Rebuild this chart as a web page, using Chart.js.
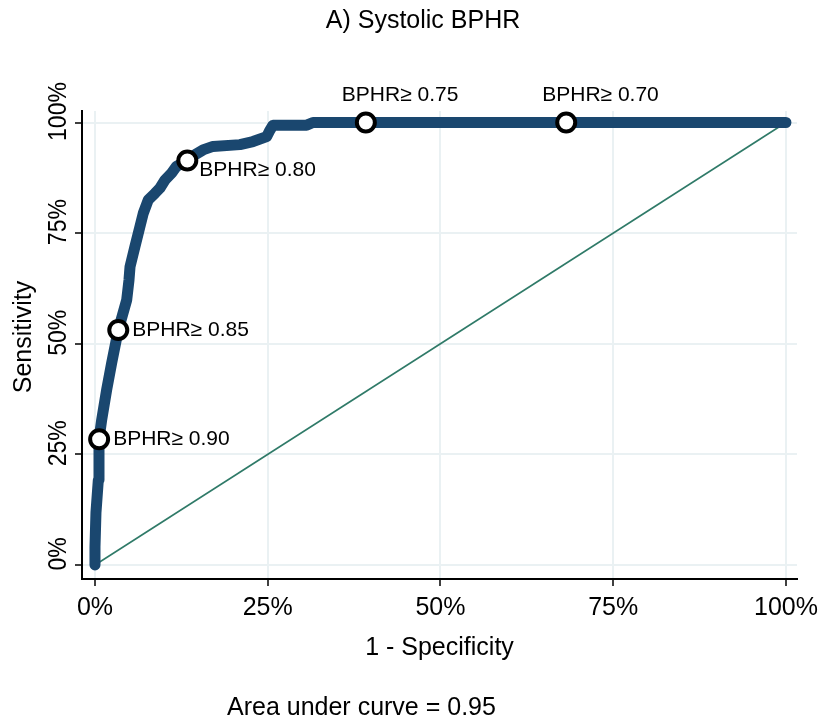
<!DOCTYPE html>
<html lang="en">
<head>
<meta charset="UTF-8">
<title>A) Systolic BPHR - ROC</title>
<script src="https://cdn.jsdelivr.net/npm/chart.js"></script>
<style>
    body {
        margin: 0;
        background: #fff;
    }
</style>
</head>
<body>

<canvas id="rocChart" width="828" height="724"></canvas>

<script>
    // ROC curve
    const rocFpr  = [0, 0, 0.0014, 0.0048, 0.0058, 0.0097, 0.0169, 0.0242, 0.0337, 0.0459, 0.0492, 0.0507,
                     0.0579, 0.0651, 0.0699, 0.0771, 0.0868, 0.0941, 0.1013, 0.111, 0.118, 0.1336, 0.1447,
                     0.1563, 0.1708, 0.2098, 0.2287, 0.2485, 0.2533, 0.2576, 0.3064, 0.3155, 1];
    const rocSens = [0, 0.041, 0.118, 0.192, 0.284, 0.328, 0.396, 0.457, 0.531, 0.599, 0.644, 0.674,
                     0.720, 0.765, 0.795, 0.825, 0.840, 0.852, 0.870, 0.886, 0.901, 0.914, 0.927,
                     0.938, 0.946, 0.950, 0.957, 0.968, 0.983, 0.994, 0.994, 1, 1];

    // marked cut-offs
    const cutoffLabels = ['BPHR\u2265 0.90', 'BPHR\u2265 0.85', 'BPHR\u2265 0.80', 'BPHR\u2265 0.75', 'BPHR\u2265 0.70'];
    const cutoffFpr    = [0.006, 0.0337, 0.1336, 0.392, 0.682];
    const cutoffSens   = [0.284, 0.531, 0.914, 1, 1];
    // where the label sits next to its marker (clock position, as in Stata)
    const cutoffLabelPos = [3, 3, 4, 12, 12];

    const refLine   = [0, 1];
    const axisTicks = [0, 0.25, 0.5, 0.75, 1];

    const titleText = 'A) Systolic BPHR';
    const yTitle    = 'Sensitivity';
    const xTitle    = '1 - Specificity';
    const noteText  = 'Area under curve = 0.95';

    const FONT = "'Liberation Sans', Arial, sans-serif";
    Chart.defaults.font.family = FONT;
    Chart.defaults.color = '#000';

    const pct = v => Math.round(v * 100) + '%';

    const labelOffsets = {
        3:  { dx: 14,  dy: 0 },
        4:  { dx: 12,  dy: 10 },
        12: { dx: -24, dy: -27 }
    };

    const extrasPlugin = {
        id: 'extras',
        afterDraw(chart) {
            const ctx = chart.ctx;
            const xs = chart.scales.x;
            const ys = chart.scales.y;
            ctx.save();
            ctx.fillStyle = '#000';

            // title and note
            ctx.font = '25px ' + FONT;
            ctx.textAlign = 'center';
            ctx.textBaseline = 'alphabetic';
            ctx.fillText(titleText, 423, 28);
            ctx.textAlign = 'left';
            ctx.fillText(noteText, 227, 715);

            // y axis title
            ctx.save();
            ctx.translate(24, 337);
            ctx.rotate(-Math.PI / 2);
            ctx.textAlign = 'center';
            ctx.textBaseline = 'middle';
            ctx.fillText(yTitle, 0, 0);
            ctx.restore();

            // y tick labels, turned like the reference (Stata draws them a bit above the tick)
            axisTicks.forEach(v => {
                ctx.save();
                ctx.translate(66, ys.getPixelForValue(v) - 11);
                ctx.rotate(-Math.PI / 2);
                ctx.scale(0.92, 1);
                ctx.textAlign = 'center';
                ctx.fillText(pct(v), 0, 0);
                ctx.restore();
            });

            // cut-off labels
            ctx.font = '21px ' + FONT;
            ctx.textAlign = 'left';
            ctx.textBaseline = 'middle';
            cutoffLabels.forEach((txt, i) => {
                const off = labelOffsets[cutoffLabelPos[i]];
                const px = xs.getPixelForValue(cutoffFpr[i]);
                const py = ys.getPixelForValue(cutoffSens[i]);
                ctx.fillText(txt, px + off.dx, py + off.dy);
            });
            ctx.restore();
        }
    };

    const ctx = document.getElementById('rocChart').getContext('2d');
    const chart = new Chart(ctx, {
        type: 'scatter',
        data: {
            datasets: [
                {
                    label: 'cut-offs',
                    data: cutoffFpr.map((x, i) => ({ x: x, y: cutoffSens[i] })),
                    pointRadius: 9,
                    pointBorderWidth: 4,
                    pointBackgroundColor: '#fff',
                    pointBorderColor: '#000',
                    clip: false
                },
                {
                    label: 'ROC',
                    data: rocFpr.map((x, i) => ({ x: x, y: rocSens[i] })),
                    showLine: true,
                    borderColor: '#1a476f',
                    borderWidth: 11,
                    borderCapStyle: 'round',
                    borderJoinStyle: 'round',
                    pointRadius: 0,
                    tension: 0,
                    clip: false
                },
                {
                    label: 'reference',
                    data: refLine.map(v => ({ x: v, y: v })),
                    showLine: true,
                    borderColor: '#2f7a68',
                    borderWidth: 1.6,
                    pointRadius: 0,
                    clip: false
                }
            ]
        },
        options: {
            responsive: false,
            animation: false,
            layout: {
                padding: { top: 111, right: 31, bottom: 0, left: 0 }
            },
            scales: {
                x: {
                    type: 'linear',
                    min: -0.0188,
                    max: 1.016,
                    afterBuildTicks: s => { s.ticks = axisTicks.map(v => ({ value: v })); },
                    afterFit: s => { s.height = 145; },
                    ticks: {
                        callback: v => pct(v),
                        font: { size: 25 },
                        padding: 7,
                        maxRotation: 0
                    },
                    grid: {
                        color: '#eaf1f3',
                        lineWidth: 2,
                        tickColor: '#000',
                        tickLength: 7,
                        tickWidth: 1.5
                    },
                    border: { color: '#000', width: 2 },
                    title: {
                        display: true,
                        text: xTitle,
                        font: { size: 25 },
                        padding: { top: 0, bottom: 61 }
                    }
                },
                y: {
                    type: 'linear',
                    min: -0.0317,
                    max: 1.026,
                    afterBuildTicks: s => { s.ticks = axisTicks.map(v => ({ value: v })); },
                    afterFit: s => { s.width = 82; },
                    ticks: { display: false },
                    grid: {
                        color: '#eaf1f3',
                        lineWidth: 2,
                        tickColor: '#000',
                        tickLength: 7,
                        tickWidth: 1.5
                    },
                    border: { color: '#000', width: 2 },
                    title: { display: false }
                }
            },
            plugins: {
                legend: { display: false },
                tooltip: { enabled: false }
            }
        },
        plugins: [extrasPlugin]
    });
</script>

</body>
</html>
